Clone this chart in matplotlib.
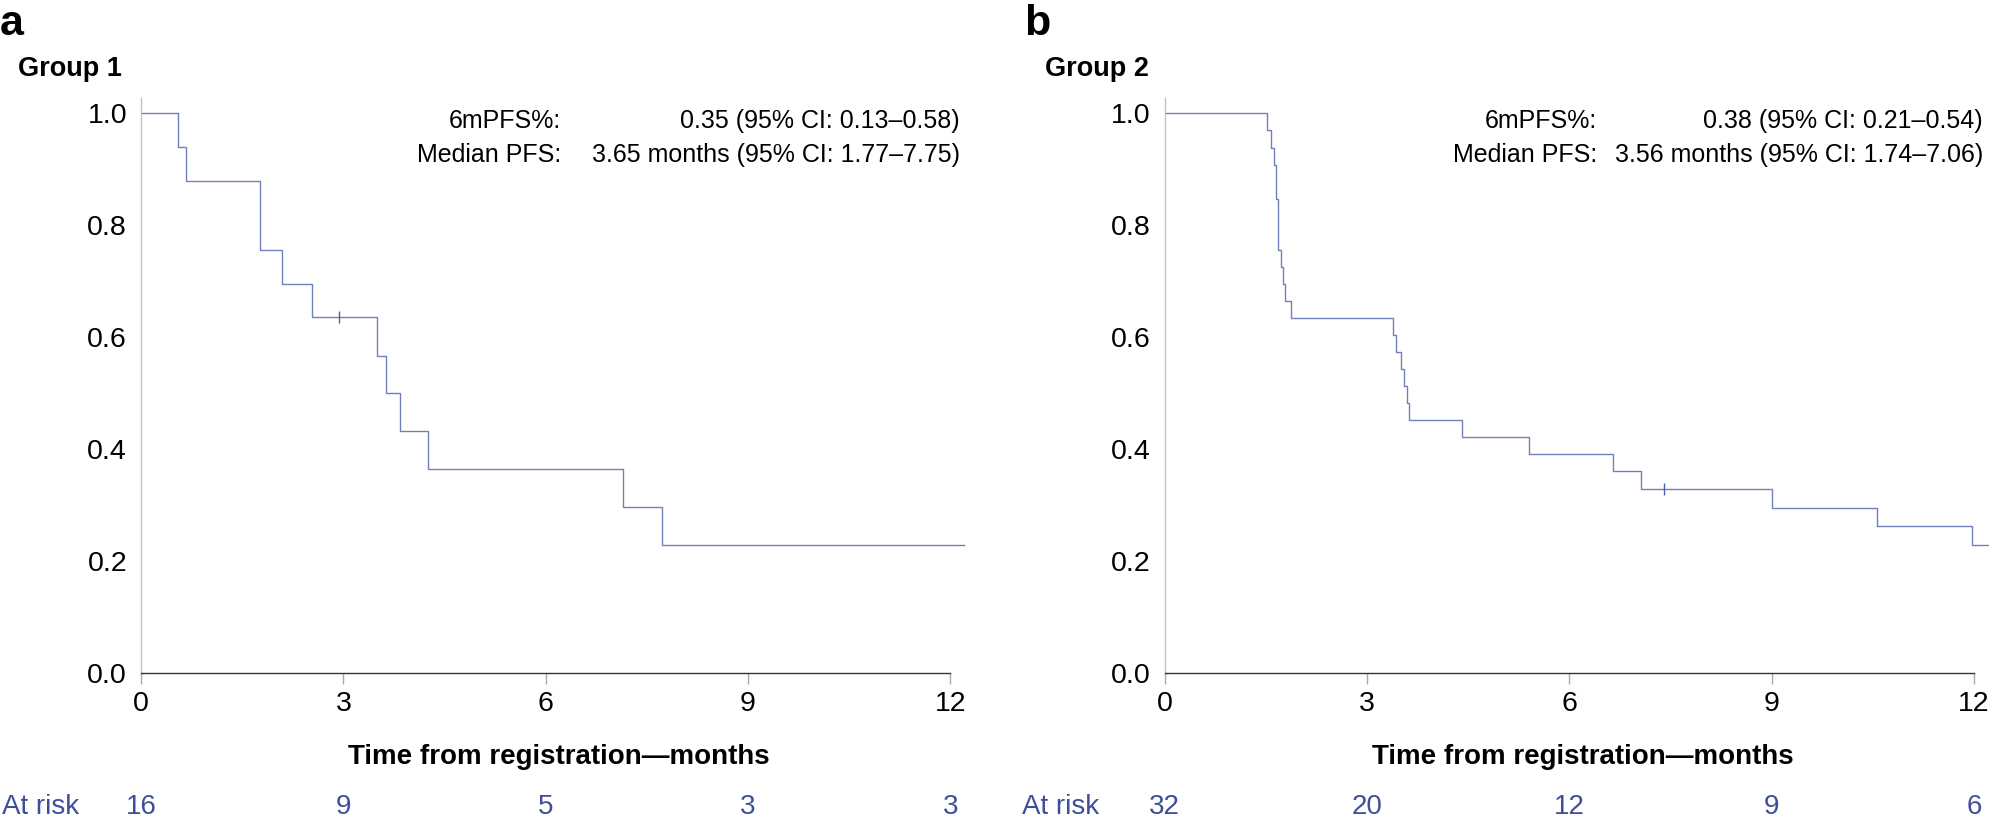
import matplotlib
matplotlib.use("Agg")
from matplotlib import pyplot as plt
from matplotlib.transforms import blended_transform_factory

plt.rcParams['font.family'] = ['Liberation Sans', 'DejaVu Sans']

# group 1 (panel a) - step times (months) and survival
tempos_a = [0, 0.555, 0.66, 1.76, 2.09, 2.54, 3.50, 3.63, 3.84, 4.26, 7.14, 7.73]
sobrev_a = [1.0, 0.939, 0.878, 0.756, 0.695, 0.635, 0.567, 0.50, 0.432, 0.364, 0.297, 0.229]
fim_a = 12.2
censura_a = [(2.93, 0.635)]
risco_a = [16, 9, 5, 3, 3]

# group 2 (panel b)
tempos_b = [0, 1.52, 1.58, 1.63, 1.66, 1.68, 1.72, 1.75, 1.78, 1.88, 3.39, 3.43,
            3.51, 3.55, 3.59, 3.62, 4.41, 5.40, 6.65, 7.07, 9.01, 10.56, 11.97]
sobrev_b = [1.0, 0.969, 0.938, 0.908, 0.847, 0.755, 0.725, 0.694, 0.664, 0.634, 0.604, 0.573,
            0.543, 0.512, 0.482, 0.451, 0.421, 0.391, 0.360, 0.329, 0.295, 0.263, 0.228]
fim_b = 12.23
censura_b = [(7.40, 0.329)]
risco_b = [32, 20, 12, 9, 6]

ticks_x = [0, 3, 6, 9, 12]
ticks_y = [0.0, 0.2, 0.4, 0.6, 0.8, 1.0]

textos_a = ["0.35 (95% CI: 0.13\u20130.58)", "3.65 months (95% CI: 1.77\u20137.75)"]
textos_b = ["0.38 (95% CI: 0.21\u20130.54)", "3.56 months (95% CI: 1.74\u20137.06)"]

cor_linha = '#7180bb'
cor_risco = '#3d4f98'

W, H = 1989, 823
fig = plt.figure(figsize=(W / 100, H / 100), dpi=100)


def painel(x0, tempos, sobrev, fim, censura, risco, letra, grupo, textos, xlet, xgrp, xrot, xval):
    esq = x0 / W
    larg = (12.2 * 67.45) / W
    ax = fig.add_axes([esq, (H - 673) / H, larg, (673 - 98) / H])
    ax.step(tempos + [fim], sobrev + [sobrev[-1]], where='post', color=cor_linha, lw=1.0,
            clip_on=False)
    for (t, s) in censura:
        ax.plot([t], [s], marker='|', ms=9, mew=1.0, color='#4a5fb0')
    ax.set_xlim(0, 12.2)
    ax.set_ylim(0, 1.027)
    ax.spines['top'].set_visible(False)
    ax.spines['right'].set_visible(False)
    ax.spines['left'].set_color('#c4c4c4')
    ax.spines['left'].set_linewidth(1.0)
    ax.spines['bottom'].set_color('#333333')
    ax.spines['bottom'].set_linewidth(1.0)
    ax.spines['bottom'].set_bounds(0, 12)
    ax.set_xticks(ticks_x)
    ax.set_yticks(ticks_y)
    ax.set_yticklabels(['%.1f' % v for v in ticks_y])
    ax.tick_params(axis='y', length=0, pad=10, labelsize=20.5)
    ax.tick_params(axis='x', length=8, width=1.0, color='#aaaaaa', pad=5, labelsize=20.5)

    tr = blended_transform_factory(ax.transData, fig.transFigure)
    ax.text(6.2, (H - 757) / H, 'Time from registration\u2014months', transform=tr,
            ha='center', va='center', fontsize=20, fontweight='bold')
    for t, n in zip(ticks_x, risco):
        ax.text(t, (H - 807) / H, str(n), transform=tr, ha='center', va='center',
                fontsize=20, color=cor_risco)

    fig.text(xlet / W, (H - 35) / H, letra, fontsize=31, fontweight='bold', va='baseline')
    fig.text(xgrp / W, (H - 76) / H, grupo, fontsize=19.5, fontweight='bold', va='baseline')

    fig.text(xrot / W, (H - 121) / H, '6mPFS%:', ha='right', va='center', fontsize=18)
    fig.text(xrot / W, (H - 155) / H, 'Median PFS:', ha='right', va='center', fontsize=18)
    fig.text(xval / W, (H - 121) / H, textos[0], ha='right', va='center', fontsize=18)
    fig.text(xval / W, (H - 155) / H, textos[1], ha='right', va='center', fontsize=18)
    return ax


painel(141, tempos_a, sobrev_a, fim_a, censura_a, risco_a, 'a', 'Group 1', textos_a,
       0, 18, 561, 960)
painel(1164.5, tempos_b, sobrev_b, fim_b, censura_b, risco_b, 'b', 'Group 2', textos_b,
       1024, 1045, 1597, 1983)

fig.text(0.001, (H - 807) / H, 'At risk', ha='left', va='center', fontsize=20, color=cor_risco)
fig.text(1022 / W, (H - 807) / H, 'At risk', ha='left', va='center', fontsize=20, color=cor_risco)

fig.savefig('out.png', dpi=100)
